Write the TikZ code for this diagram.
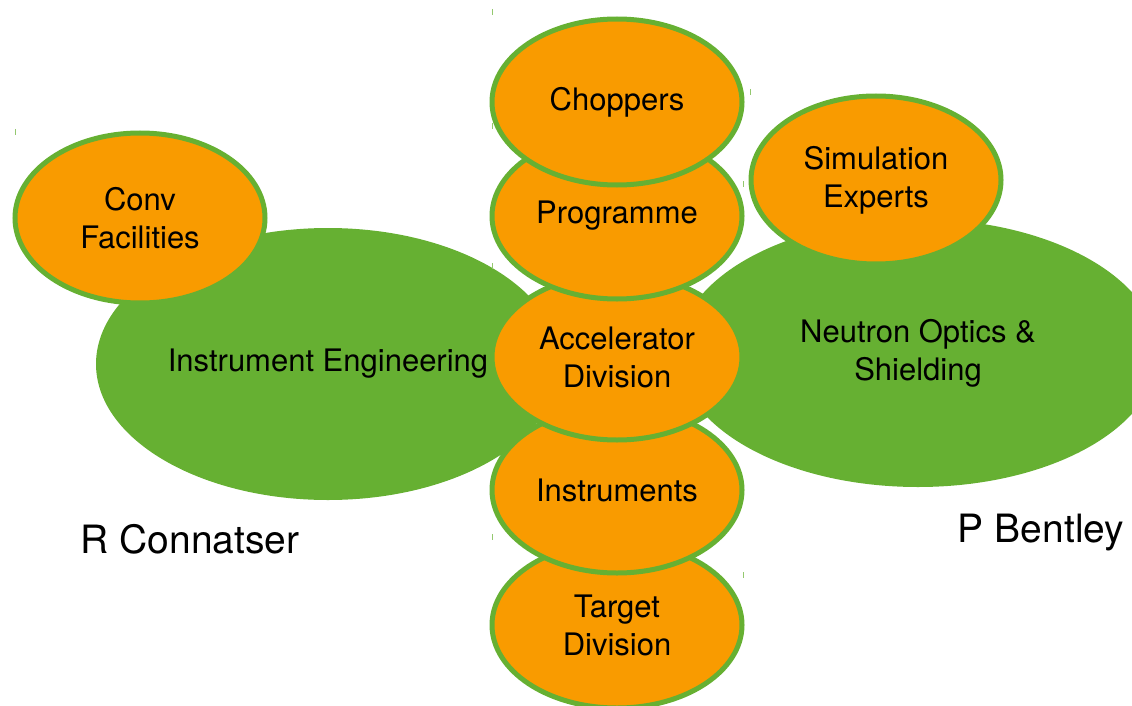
\documentclass[tikz,border=0pt]{standalone}
\usepackage{fontspec}
\setmainfont{TeX Gyre Heros}
\usetikzlibrary{shapes.geometric}
\definecolor{blobgreen}{RGB}{102,176,50}
\definecolor{bloborange}{RGB}{249,155,0}

\begin{document}
\begin{tikzpicture}[x=1pt, y=-1pt,
    bigblob/.style={ellipse, fill=blobgreen, inner sep=0pt, align=center,
        font=\fontsize{31}{38}\selectfont},
    blob/.style={ellipse, fill=bloborange, draw=blobgreen, line width=5pt,
        minimum width=250pt, minimum height=166pt, inner sep=0pt, align=center,
        font=\fontsize{31}{38}\selectfont},
    leadname/.style={font=\fontsize{39}{46}\selectfont}]
    \useasboundingbox (0,0) rectangle (1132,706);
    % Groups
    \node[bigblob, minimum width=464pt, minimum height=272pt] (InstEng) at (328,364) {Instrument Engineering};
    \node[bigblob, minimum width=480pt, minimum height=268pt] (Optics) at (918,353) {Neutron Optics \&\\Shielding};
    \node[blob, minimum height=170pt] (Conv) at (140,218) {Conv\\Facilities};
    \node[blob, minimum height=168pt] (Sim) at (876,180) {Simulation\\Experts};
    % Central column, bottom up
    \node[blob] (Target) at (617,625) {Target\\Division};
    \node[blob] (Instr) at (617,490) {Instruments};
    \node[blob] (Accel) at (617,357) {Accelerator\\Division};
    \node[blob] (Prog) at (617,216) {Programme};
    \node[blob] (Chop) at (617,102) {Choppers};
    % Leads
    \node[leadname] (Connatser) at (190,539) {R Connatser};
    \node[leadname] (Bentley) at (1041,533) {P Bentley};
    % Stray handles
    \foreach \tx/\ty in {492.7/12, 492.7/126, 492.7/266, 492.7/537, 750.7/92, 743/184, 743/575, 15/132}
        \draw[blobgreen!70, line width=1pt] (\tx,\ty-3) -- (\tx,\ty+3);
\end{tikzpicture}
\end{document}
